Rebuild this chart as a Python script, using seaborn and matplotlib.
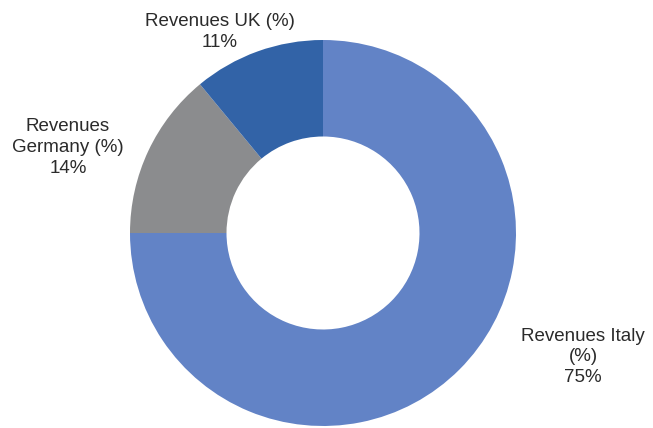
import matplotlib
matplotlib.use("Agg")
import matplotlib.pyplot as plt
import seaborn as sns

regions = ["Revenues Italy\n(%)", "Revenues Germany (%)", "Revenues UK (%)"]
shares = [75, 14, 11]
colors = ["#6283c6", "#8b8c8e", "#3263a7"]

sns.set_theme(style="white")
plt.rcParams["font.family"] = ["Liberation Sans", "DejaVu Sans"]

fig = plt.figure(figsize=(6.53, 4.28), dpi=100)
ax = fig.add_axes([0, 0, 1, 1])

wedges, _ = ax.pie(
    shares,
    colors=colors,
    startangle=90,
    counterclock=False,
    radius=1.0,
    wedgeprops=dict(width=0.5, linewidth=0),
)

# scale: 193 px per unit, centre at (323, 233) px from top-left
px = 193.0
ax.set_xlim(-323 / px, (653 - 323) / px)
ax.set_ylim(-(428 - 233) / px, 233 / px)
ax.set_aspect("equal")
ax.axis("off")

label_text = [
    "Revenues Italy\n(%)\n{}%".format(shares[0]),
    "Revenues\nGermany (%)\n{}%".format(shares[1]),
    "Revenues UK (%)\n{}%".format(shares[2]),
]
label_pos = [(1.347, -0.642), (-1.321, 0.445), (-0.534, 1.04)]
for txt, (x, y) in zip(label_text, label_pos):
    ax.text(x, y, txt, ha="center", va="center", fontsize=13.5,
            color="#2b2b2b", linespacing=1.3)

fig.savefig("out.png", dpi=100)
